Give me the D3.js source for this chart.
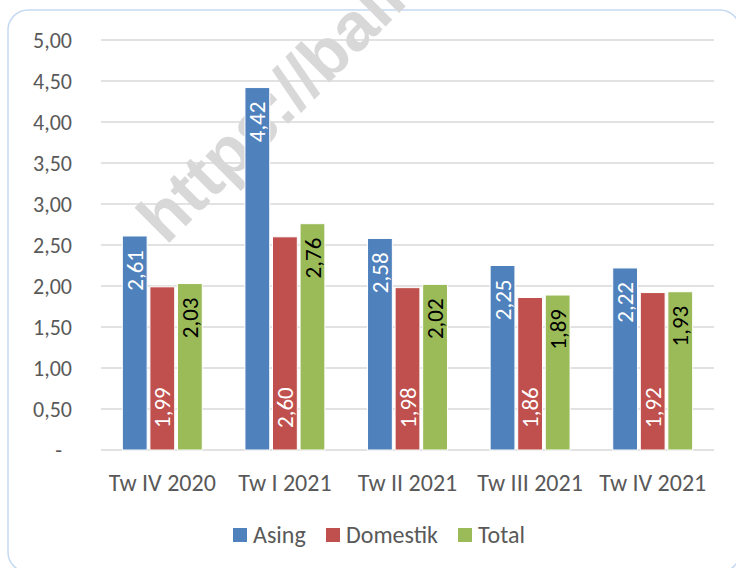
<!DOCTYPE html>
<html>
<head>
<meta charset="utf-8">
<script src="https://cdn.jsdelivr.net/npm/d3@7"></script>
<style>
  body { margin: 0; background: #fff; }
  text { font-family: Carlito, Calibri, Lato, "Noto Sans", sans-serif; }
</style>
</head>
<body>
<script>
const w = 736
const h = 568

const categories = ["Tw IV 2020", "Tw I 2021", "Tw II 2021", "Tw III 2021", "Tw IV 2021"]
const series = ["Asing", "Domestik", "Total"]
const asing = [2.61, 4.42, 2.58, 2.25, 2.22]
const domestik = [1.99, 2.60, 1.98, 1.86, 1.92]
const total = [2.03, 2.76, 2.02, 1.89, 1.93]
const yTicks = [0, 0.5, 1, 1.5, 2, 2.5, 3, 3.5, 4, 4.5, 5]
const colors = ["#4F81BD", "#C0504D", "#9BBB59"]

const values = [asing, domestik, total]
const fmt = v => v === 0 ? "-" : v.toFixed(2).replace(".", ",")

const svg = d3.select("body").append("svg")
	.attr("width", w).attr("height", h)

// frame
svg.append("rect")
	.attr("x", 8).attr("y", 10)
	.attr("width", 732).attr("height", 562)
	.attr("rx", 20)
	.attr("fill", "#fff")
	.attr("stroke", "#C5D9F1")
	.attr("stroke-width", 1.5)

const x0 = d3.scaleBand().domain(categories).range([101, 714])
const x1 = d3.scaleBand().domain(series)
	.range([x0.bandwidth() * 0.174, x0.bandwidth() * 0.826])
	.paddingInner(0.1)
const y = d3.scaleLinear().domain([0, 5]).range([450, 40])

// gridlines
svg.append("g").selectAll("line")
	.data(yTicks)
	.enter()
	.append("line")
	.attr("x1", 101).attr("x2", 714)
	.attr("y1", d => y(d)).attr("y2", d => y(d))
	.attr("stroke", "#D9D9D9")
	.attr("stroke-width", 1.5)

// y labels
svg.append("g").selectAll("text")
	.data(yTicks)
	.enter()
	.append("text")
	.text(fmt)
	.attr("x", d => d === 0 ? 62 : 72)
	.attr("y", d => y(d))
	.attr("dy", ".35em")
	.attr("text-anchor", "end")
	.attr("font-size", "22px")
	.attr("fill", "#595959")

// watermark
svg.append("text")
	.text("https://bali")
	.attr("transform", "translate(166,246) rotate(-45)")
	.attr("font-size", "68px")
	.attr("font-weight", "bold")
	.style("font-family", "'Liberation Sans', Arial, sans-serif")
	.attr("fill", "#D8D8D8")

// bars
const groups = svg.append("g").selectAll("g")
	.data(categories)
	.enter()
	.append("g")
	.attr("transform", d => `translate(${x0(d)},0)`)

const cells = groups.selectAll("g")
	.data((c, i) => series.map((s, j) => ({ s, j, v: values[j][i] })))
	.enter()
	.append("g")

cells.append("rect")
	.attr("x", d => x1(d.s))
	.attr("y", d => y(d.v))
	.attr("width", x1.bandwidth())
	.attr("height", d => y(0) - y(d.v))
	.attr("fill", d => colors[d.j])
	.attr("stroke", "#fff")
	.attr("stroke-width", 1)

cells.append("text")
	.text(d => fmt(d.v))
	.attr("transform", d => {
		const cx = x1(d.s) + x1.bandwidth() / 2
		const cy = d.j === 1 ? y(0) - 22 : y(d.v) + 14
		return `translate(${cx},${cy}) rotate(-90)`
	})
	.attr("text-anchor", d => d.j === 1 ? "start" : "end")
	.attr("dy", ".35em")
	.attr("font-size", "23px")
	.attr("fill", d => d.j === 2 ? "#000" : "#fff")

// category labels
svg.append("g").selectAll("text")
	.data(categories)
	.enter()
	.append("text")
	.text(d => d)
	.attr("x", d => x0(d) + x0.bandwidth() / 2)
	.attr("y", 483)
	.attr("dy", ".35em")
	.attr("text-anchor", "middle")
	.attr("font-size", "24px")
	.attr("fill", "#595959")

// legend
const legendX = [233, 326, 458]
const legend = svg.append("g").selectAll("g")
	.data(series)
	.enter()
	.append("g")
	.attr("transform", (d, i) => `translate(${legendX[i]},535)`)

legend.append("rect")
	.attr("x", 0).attr("y", -7)
	.attr("width", 14).attr("height", 14)
	.attr("fill", (d, i) => colors[i])

legend.append("text")
	.text(d => d)
	.attr("x", 20)
	.attr("dy", ".35em")
	.attr("font-size", "24px")
	.attr("fill", "#595959")
</script>
</body>
</html>
